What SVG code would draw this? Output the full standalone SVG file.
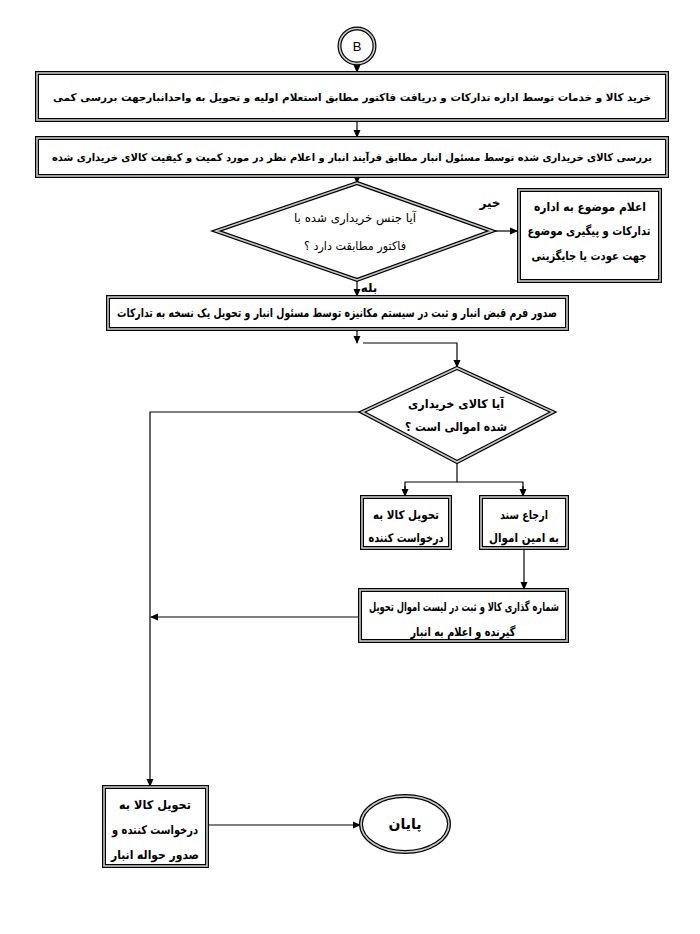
<svg xmlns="http://www.w3.org/2000/svg" width="700" height="934" viewBox="0 0 700 934">
<defs>
<marker id="ah" markerWidth="8" markerHeight="8" refX="7" refY="4" orient="auto" markerUnits="userSpaceOnUse">
<path d="M0,0.5 L8,4 L0,7.5 Z" fill="#000"/>
</marker>
<style>
.bo{fill:#fff;stroke:#000;stroke-width:4}
.bi{fill:none;stroke:#c8c8c8;stroke-width:1.6}
.t{font-family:"DejaVu Sans","Noto Sans",sans-serif;font-weight:bold;font-size:12px;fill:#000;text-anchor:middle;direction:rtl}
.tn{font-family:"DejaVu Sans","Noto Sans",sans-serif;font-size:12px;fill:#000;text-anchor:middle;direction:rtl}
.c{fill:none;stroke:#000;stroke-width:1.2}
</style>
</defs>
<rect width="700" height="934" fill="#fff"/>
<g id="connectors" class="c">
<line x1="357" y1="64" x2="357" y2="72" marker-end="url(#ah)"/>
<line x1="357" y1="121" x2="357" y2="137" marker-end="url(#ah)"/>
<line x1="357" y1="177" x2="357" y2="183" marker-end="url(#ah)"/>
<line x1="492" y1="231" x2="517" y2="231" marker-end="url(#ah)"/>
<line x1="357" y1="280" x2="357" y2="296" marker-end="url(#ah)"/>
<line x1="357" y1="330" x2="357" y2="343" marker-end="url(#ah)"/>
<polyline points="363,343 457,343 457,367" marker-end="url(#ah)"/>
<polyline points="362,412 150,412 150,786" marker-end="url(#ah)"/>
<line x1="457" y1="462" x2="457" y2="482"/>
<polyline points="405,496 405,482 523,482 523,496"/>
<line x1="405" y1="486" x2="405" y2="496" marker-end="url(#ah)"/>
<line x1="523" y1="486" x2="523" y2="496" marker-end="url(#ah)"/>
<line x1="524" y1="549" x2="524" y2="589" marker-end="url(#ah)"/>
<line x1="359" y1="617" x2="151" y2="617" marker-end="url(#ah)"/>
<line x1="208" y1="825" x2="360" y2="825" marker-end="url(#ah)"/>
</g>
<g id="start">
<circle cx="357" cy="46" r="17.5" fill="#fff" stroke="#000" stroke-width="4"/>
<circle cx="357" cy="46" r="17.5" fill="none" stroke="#c8c8c8" stroke-width="1.6"/>
<text x="357" y="51" font-family="Liberation Sans,Arial,sans-serif" font-size="13" text-anchor="middle">B</text>
</g>
<g id="n1">
<rect class="bo" x="37" y="73" width="630" height="47"/>
<rect class="bi" x="37" y="73" width="630" height="47"/>
<text class="t" x="352" y="101" style="font-size:10.5px" textLength="598" lengthAdjust="spacingAndGlyphs">خرید کالا و خدمات توسط اداره تدارکات و دریافت فاکتور مطابق استعلام اولیه و تحویل به واحدانبارجهت بررسی کمی</text>
</g>
<g id="n2">
<rect class="bo" x="37" y="138" width="630" height="38"/>
<rect class="bi" x="37" y="138" width="630" height="38"/>
<text class="t" x="352" y="161" style="font-size:10.5px" textLength="600" lengthAdjust="spacingAndGlyphs">بررسی کالای خریداری شده توسط مسئول انبار مطابق فرآیند انبار و اعلام نظر در مورد کمیت و کیفیت کالای خریداری شده</text>
</g>
<g id="d1">
<polygon class="bo" points="357,183 492,231 357,280 216,231"/>
<polygon class="bi" points="357,183 492,231 357,280 216,231"/>
<text class="tn" x="355" y="222" textLength="122" lengthAdjust="spacingAndGlyphs">آیا جنس خریداری شده با</text>
<text class="tn" x="355" y="250" textLength="102" lengthAdjust="spacingAndGlyphs">فاکتور مطابقت دارد ؟</text>
</g>
<text class="t" x="490" y="207">خیر</text>
<text class="t" x="369" y="292">بله</text>
<g id="n3">
<rect class="bo" x="519" y="190" width="141" height="91"/>
<rect class="bi" x="519" y="190" width="141" height="91"/>
<text class="t" x="590" y="211" textLength="112" lengthAdjust="spacingAndGlyphs">اعلام موضوع به اداره</text>
<text class="t" x="589" y="235" textLength="123" lengthAdjust="spacingAndGlyphs">تدارکات و پیگیری موضوع</text>
<text class="t" x="589" y="260" textLength="115" lengthAdjust="spacingAndGlyphs">جهت عودت یا جایگزینی</text>
</g>
<g id="n4">
<rect class="bo" x="108" y="297" width="459" height="32"/>
<rect class="bi" x="108" y="297" width="459" height="32"/>
<text class="t" x="337" y="317" textLength="440" lengthAdjust="spacingAndGlyphs">صدور فرم قبض انبار و ثبت در سیستم مکانیزه توسط مسئول انبار و تحویل یک نسخه به تدارکات</text>
</g>
<g id="d2">
<polygon class="bo" points="457,368 553,412 457,462 362,412"/>
<polygon class="bi" points="457,368 553,412 457,462 362,412"/>
<text class="tn" x="456" y="408" textLength="96" lengthAdjust="spacingAndGlyphs" font-weight="bold">آیا کالای خریداری</text>
<text class="tn" x="456" y="431" textLength="102" lengthAdjust="spacingAndGlyphs" font-weight="bold">شده اموالی است ؟</text>
</g>
<g id="n5">
<rect class="bo" x="362" y="497" width="88" height="51"/>
<rect class="bi" x="362" y="497" width="88" height="51"/>
<text class="t" x="406" y="519" textLength="66" lengthAdjust="spacingAndGlyphs">تحویل کالا به</text>
<text class="t" x="406" y="542" textLength="75" lengthAdjust="spacingAndGlyphs">درخواست کننده</text>
</g>
<g id="n6">
<rect class="bo" x="481" y="497" width="86" height="51"/>
<rect class="bi" x="481" y="497" width="86" height="51"/>
<text class="t" x="524" y="519" textLength="48" lengthAdjust="spacingAndGlyphs">ارجاع سند</text>
<text class="t" x="524" y="542" textLength="70" lengthAdjust="spacingAndGlyphs">به امین اموال</text>
</g>
<g id="n7">
<rect class="bo" x="360" y="590" width="207" height="51"/>
<rect class="bi" x="360" y="590" width="207" height="51"/>
<text class="t" x="464" y="611" textLength="190" lengthAdjust="spacingAndGlyphs">شماره گذاری کالا و ثبت در لیست اموال تحویل</text>
<text class="t" x="463" y="636" textLength="105" lengthAdjust="spacingAndGlyphs">گیرنده و اعلام به انبار</text>
</g>
<g id="n8">
<rect class="bo" x="104" y="787" width="103" height="79"/>
<rect class="bi" x="104" y="787" width="103" height="79"/>
<text class="t" x="155" y="809" textLength="72" lengthAdjust="spacingAndGlyphs">تحویل کالا به</text>
<text class="t" x="155" y="834" textLength="86" lengthAdjust="spacingAndGlyphs">درخواست کننده و</text>
<text class="t" x="155" y="859" textLength="88" lengthAdjust="spacingAndGlyphs">صدور حواله انبار</text>
</g>
<g id="end">
<ellipse class="bo" cx="405" cy="824" rx="44" ry="28"/>
<ellipse class="bi" cx="405" cy="824" rx="44" ry="28"/>
<text class="t" x="405" y="829" style="font-size:14px">پایان</text>
</g>
</svg>
